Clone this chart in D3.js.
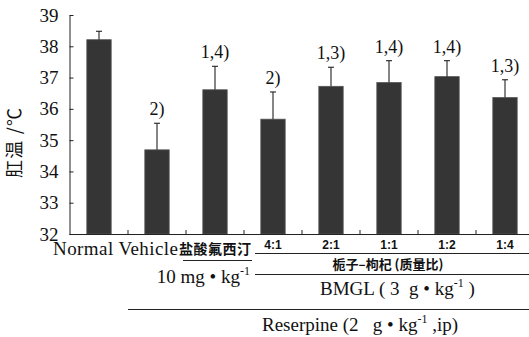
<!DOCTYPE html>
<html>
<head>
<meta charset="utf-8">
<script src="https://cdn.jsdelivr.net/npm/d3@7/dist/d3.min.js"></script>
<style>
  body { margin: 0; background: #fff; }
  svg { display: block; }
</style>
</head>
<body>
<div id="chart"></div>
<script>
const width = 529;
const height = 337;

// data
const groups = ["Normal", "Vehicle", "盐酸氟西汀", "4:1", "2:1", "1:1", "1:2", "1:4"];
const means = [38.21, 34.69, 36.61, 35.67, 36.72, 36.84, 37.03, 36.36];
const errs = [0.27, 0.85, 0.75, 0.87, 0.61, 0.70, 0.51, 0.57];
const marks = ["", "2)", "1,4)", "2)", "1,3)", "1,4)", "1,4)", "1,3)"];
const yTicks = [32, 33, 34, 35, 36, 37, 38, 39];

const SERIF = "'Liberation Serif', 'DejaVu Serif', serif";
const CJK = "'Noto Sans CJK SC', sans-serif";

const svg = d3.select("#chart")
  .append("svg")
  .attr("width", width)
  .attr("height", height);

const x = d3.scaleBand()
  .domain(groups)
  .range([70, 534])
  .paddingInner(0.58)
  .paddingOuter(0.29);

const y = d3.scaleLinear()
  .domain([32, 39])
  .range([234, 15]);

// bars
svg.selectAll("rect.bar")
  .data(groups)
  .enter()
  .append("rect")
  .attr("class", "bar")
  .attr("x", d => x(d))
  .attr("width", x.bandwidth())
  .attr("y", (d, i) => y(means[i]))
  .attr("height", (d, i) => y(32) - y(means[i]))
  .attr("fill", "#353535")
  .attr("stroke", "#555")
  .attr("stroke-width", 0.8);

// error bars
const eb = svg.selectAll("g.err")
  .data(groups)
  .enter()
  .append("g")
  .attr("class", "err")
  .attr("stroke", "#222")
  .attr("stroke-width", 1.1);

eb.append("line")
  .attr("x1", d => x(d) + x.bandwidth() / 2)
  .attr("x2", d => x(d) + x.bandwidth() / 2)
  .attr("y1", (d, i) => y(means[i]))
  .attr("y2", (d, i) => y(means[i] + errs[i]));

eb.append("line")
  .attr("x1", d => x(d) + x.bandwidth() / 2 - 3)
  .attr("x2", d => x(d) + x.bandwidth() / 2 + 3)
  .attr("y1", (d, i) => y(means[i] + errs[i]))
  .attr("y2", (d, i) => y(means[i] + errs[i]));

// significance marks
svg.selectAll("text.mark")
  .data(groups)
  .enter()
  .append("text")
  .attr("class", "mark")
  .attr("x", d => x(d) + x.bandwidth() / 2)
  .attr("y", (d, i) => y(means[i] + errs[i]) - 8)
  .attr("text-anchor", "middle")
  .style("font-family", SERIF)
  .style("font-size", "18px")
  .attr("fill", "#111")
  .text((d, i) => marks[i]);

// y axis
const yAxis = svg.append("g")
  .attr("transform", "translate(69.5,0)")
  .call(d3.axisLeft(y).tickValues(yTicks).tickFormat(d3.format("d"))
    .tickSizeInner(-4).tickSizeOuter(0).tickPadding(11));
yAxis.selectAll("text")
  .style("font-family", SERIF)
  .style("font-size", "19px")
  .attr("fill", "#111");
yAxis.selectAll("line, path").attr("stroke", "#222");

// x axis line and ticks between bars
svg.append("line")
  .attr("x1", 69.5).attr("x2", 529)
  .attr("y1", 234.5).attr("y2", 234.5)
  .attr("stroke", "#222");

svg.selectAll("line.xtick")
  .data(groups.slice(1))
  .enter()
  .append("line")
  .attr("class", "xtick")
  .attr("x1", d => x(d) - x.step() * x.paddingInner() / 2)
  .attr("x2", d => x(d) - x.step() * x.paddingInner() / 2)
  .attr("y1", 234)
  .attr("y2", 230)
  .attr("stroke", "#222");

// y title
svg.append("text")
  .attr("transform", "translate(21,143) rotate(-90)")
  .attr("text-anchor", "middle")
  .style("font-family", CJK)
  .style("font-size", "18px")
  .style("white-space", "pre")
  .attr("fill", "#111")
  .attr("textLength", 70)
  .text("肛温 /℃");

// category labels
svg.append("text")
  .attr("x", 53).attr("y", 255)
  .style("font-family", SERIF)
  .style("font-size", "19px")
  .attr("fill", "#111")
  .attr("textLength", 125)
  .text("Normal Vehicle");

svg.append("text")
  .attr("x", 179).attr("y", 254)
  .style("font-family", CJK)
  .style("font-size", "14px")
  .style("font-weight", "bold")
  .attr("fill", "#111")
  .attr("textLength", 72)
  .text("盐酸氟西汀");

svg.selectAll("text.ratio")
  .data(groups.slice(3))
  .enter()
  .append("text")
  .attr("class", "ratio")
  .attr("x", d => x(d) + x.bandwidth() / 2)
  .attr("y", 249)
  .attr("text-anchor", "middle")
  .style("font-family", "'Liberation Sans', Arial, sans-serif")
  .style("font-size", "12px")
  .style("font-weight", "bold")
  .attr("fill", "#111")
  .text(d => d);

// bracket lines
const rule = (x1, x2, yy) => svg.append("line")
  .attr("x1", x1).attr("x2", x2)
  .attr("y1", yy).attr("y2", yy)
  .attr("stroke", "#222").attr("stroke-width", 1.2);

rule(255, 529, 253.5);
rule(183, 252, 260.5);
rule(255, 529, 274.5);
rule(128, 529, 309.5);

svg.append("text")
  .attr("x", 388).attr("y", 269)
  .attr("text-anchor", "middle")
  .style("font-family", CJK)
  .style("font-size", "13px")
  .style("font-weight", "bold")
  .attr("fill", "#111")
  .text("栀子–枸杞 (质量比)");

const sup = (sel, parts) => {
  parts.forEach(p => {
    const t = sel.append("tspan").text(p.t);
    if (p.sup) t.style("font-size", "12px").attr("dy", -8);
    if (p.down) t.attr("dy", 8);
  });
};

const lbl = (xx, yy, anchor) => svg.append("text")
  .attr("x", xx).attr("y", yy)
  .attr("text-anchor", anchor)
  .style("font-family", SERIF)
  .style("font-size", "19px")
  .style("white-space", "pre")
  .attr("fill", "#111");

sup(lbl(250, 283, "end"), [{ t: "10 mg • kg" }, { t: "-1", sup: true }]);
sup(lbl(320, 295, "start"), [{ t: "BMGL ( 3  g • kg" }, { t: "-1", sup: true }, { t: " )", down: true }]);
sup(lbl(262, 331, "start"), [{ t: "Reserpine (2   g • kg" }, { t: "-1", sup: true }, { t: " ,ip)", down: true }]);
</script>
</body>
</html>
